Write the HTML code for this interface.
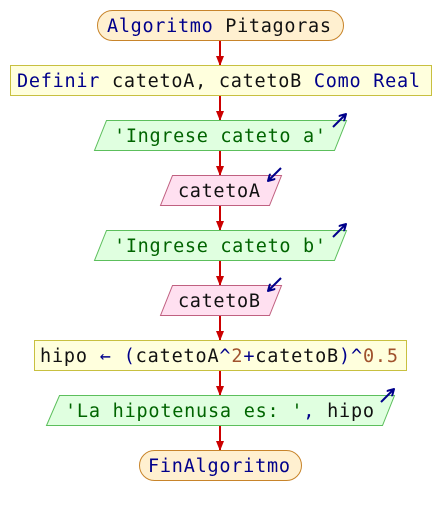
<!DOCTYPE html>
<html><head><meta charset="utf-8"><style>
html,body{margin:0;padding:0;background:#fff;width:440px;height:515px;overflow:hidden}
svg{display:block}
text{font-family:"DejaVu Sans Mono","Liberation Mono",monospace;font-size:18.5px}
.k{fill:#00008b}.b{fill:#111}.g{fill:#006400}.n{fill:#a0522d}
</style></head><body>
<svg width="440" height="515" viewBox="0 0 440 515" xmlns="http://www.w3.org/2000/svg">
<defs>
<marker id="ah" markerWidth="10" markerHeight="8" refX="9" refY="4" orient="auto" markerUnits="userSpaceOnUse"><path d="M0,0 L10,4 L0,8 z" fill="#cc0000"/></marker>
<marker id="bh" markerWidth="8" markerHeight="8" refX="7" refY="4" orient="auto" markerUnits="userSpaceOnUse"><path d="M0,0 L7,4 L0,8" fill="none" stroke="#00008b" stroke-width="2"/></marker>
</defs>
<g stroke="#cc0000" stroke-width="2" marker-end="url(#ah)">
<line x1="220" y1="40" x2="220" y2="65"/>
<line x1="220" y1="95" x2="220" y2="120"/>
<line x1="220" y1="150" x2="220" y2="175"/>
<line x1="220" y1="205" x2="220" y2="230"/>
<line x1="220" y1="260" x2="220" y2="285"/>
<line x1="220" y1="315" x2="220" y2="340"/>
<line x1="220" y1="370" x2="220" y2="395"/>
<line x1="220" y1="425" x2="220" y2="450"/>
</g>
<rect x="97.5" y="10.5" width="246" height="30" rx="15" fill="#fff0d0" stroke="#c8842a"/>
<text x="107" y="32" textLength="224" lengthAdjust="spacing"><tspan class="k">Algoritmo</tspan><tspan class="b"> Pitagoras</tspan></text>

<rect x="10.5" y="65.5" width="421" height="30" fill="#ffffdd" stroke="#c8c040"/>
<text x="17" y="87" textLength="403" lengthAdjust="spacing"><tspan class="k">Definir</tspan><tspan class="b"> catetoA, catetoB </tspan><tspan class="k">Como Real</tspan></text>

<polygon points="106.5,120.5 346.5,120.5 334.5,150.5 94.5,150.5" fill="#e0ffe0" stroke="#5cbf5c"/>
<text x="114" y="142" textLength="212" lengthAdjust="spacing" class="g">'Ingrese cateto a'</text>
<line x1="333" y1="127" x2="346" y2="114" stroke="#00008b" stroke-width="2" marker-end="url(#bh)"/>

<polygon points="172.5,175.5 281.5,175.5 269.5,205.5 160.5,205.5" fill="#ffe0f0" stroke="#c06080"/>
<text x="178" y="197" textLength="82" lengthAdjust="spacing" class="b">catetoA</text>
<line x1="281" y1="168" x2="268" y2="181" stroke="#00008b" stroke-width="2" marker-end="url(#bh)"/>

<polygon points="106.5,230.5 346.5,230.5 334.5,260.5 94.5,260.5" fill="#e0ffe0" stroke="#5cbf5c"/>
<text x="114" y="252" textLength="212" lengthAdjust="spacing" class="g">'Ingrese cateto b'</text>
<line x1="333" y1="237" x2="346" y2="224" stroke="#00008b" stroke-width="2" marker-end="url(#bh)"/>

<polygon points="172.5,285.5 281.5,285.5 269.5,315.5 160.5,315.5" fill="#ffe0f0" stroke="#c06080"/>
<text x="178" y="307" textLength="82" lengthAdjust="spacing" class="b">catetoB</text>
<line x1="281" y1="278" x2="268" y2="291" stroke="#00008b" stroke-width="2" marker-end="url(#bh)"/>

<rect x="34.5" y="340.5" width="372" height="30" fill="#ffffdd" stroke="#c8c040"/>
<text x="40" y="362" textLength="358" lengthAdjust="spacing"><tspan class="b">hipo </tspan><tspan class="k">← (</tspan><tspan class="b">catetoA</tspan><tspan class="k">^</tspan><tspan class="n">2</tspan><tspan class="k">+</tspan><tspan class="b">catetoB</tspan><tspan class="k">)^</tspan><tspan class="n">0.5</tspan></text>

<polygon points="59.5,395.5 394.5,395.5 382.5,425.5 46.5,425.5" fill="#e0ffe0" stroke="#5cbf5c"/>
<text x="65" y="417" textLength="309" lengthAdjust="spacing"><tspan class="g">'La hipotenusa es: '</tspan><tspan class="k">, </tspan><tspan class="b">hipo</tspan></text>
<line x1="381" y1="402" x2="394" y2="389" stroke="#00008b" stroke-width="2" marker-end="url(#bh)"/>

<rect x="139.5" y="450.5" width="162" height="30" rx="15" fill="#fff0d0" stroke="#c8842a"/>
<text x="148" y="472" textLength="142" lengthAdjust="spacing" class="k">FinAlgoritmo</text>
</svg>
</body></html>
